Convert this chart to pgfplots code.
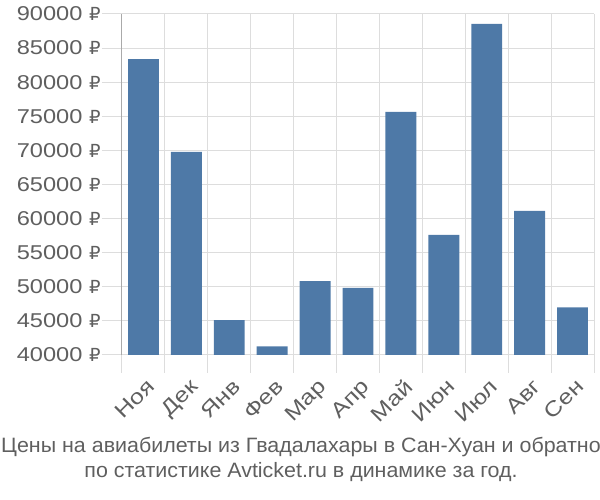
\documentclass[border=0pt]{standalone}
\usepackage{fontspec}
\setmainfont{Liberation Sans}
\newfontfamily\tickfont[FakeStretch=1.18]{Liberation Sans}
\newfontfamily\titlefont[FakeStretch=1.03]{Liberation Sans}
\newfontfamily\rubfont{DejaVu Sans}
\usepackage{pgfplots}
\pgfplotsset{compat=1.18}
\definecolor{barblue}{RGB}{78,121,167}
\definecolor{txtgray}{RGB}{95,95,95}
\definecolor{gridgray}{RGB}{221,221,221}
\definecolor{axgray}{RGB}{170,170,170}
\begin{document}
\begin{tikzpicture}
\begin{axis}[
  scale only axis,
  width=472pt, height=341pt,
  xmin=-0.5, xmax=10.5,
  ymin=40000, ymax=90000,
  ytick={40000,45000,...,90000},
  scaled y ticks=false,
  yticklabel={\pgfmathprintnumber[fixed,1000 sep={}]{\tick}~{\rubfont\fontsize{18}{22}\selectfont ₽}},
  xtick={0,...,10},
  xticklabels={Ноя,Дек,Янв,Фев,Мар,Апр,Май,Июн,Июл,Авг,Сен},
  minor xtick={-0.5,0.5,...,10.5},
  xminorgrids, ymajorgrids,
  major x tick style={draw=none},
  minor x tick style={draw=gridgray, line width=1pt},
  minor tick length=18pt,
  major y tick style={draw=gridgray, line width=1pt},
  major tick length=20pt,
  tick align=outside,
  grid style={draw=gridgray, line width=1pt},
  minor grid style={draw=gridgray, line width=1pt},
  axis x line*=bottom,
  axis y line*=left,
  x axis line style={draw=gridgray, line width=1pt, -},
  y axis line style={draw=axgray, line width=1pt, -},
  ticklabel style={font=\tickfont\fontsize{20}{24}\selectfont, text=txtgray},
  yticklabel style={xshift=2pt},
  xticklabel style={font=\tickfont\fontsize{21}{25}\selectfont, rotate=45, anchor=north east, xshift=3pt, yshift=0pt},
  /pgf/number format/assume math mode=true,
  clip=false,
]
\addplot[ybar, bar width=0.72, fill=barblue, draw=none] coordinates {
  (0,83400) (1,69800) (2,45100) (3,41250) (4,50850) (5,49850)
  (6,75650) (7,57600) (8,88550) (9,61150) (10,47000)
};
\end{axis}
\node[font=\titlefont\fontsize{20.8}{24}\selectfont, text=txtgray] at (179pt,-92pt) {Цены на авиабилеты из Гвадалахары в Сан-Хуан и обратно};
\node[font=\titlefont\fontsize{20.8}{24}\selectfont, text=txtgray] at (179pt,-117pt) {по статистике Avticket.ru в динамике за год.};
\pgfresetboundingbox
\path[use as bounding box] (-122pt,-145pt) rectangle (478pt,355pt);
\end{tikzpicture}
\end{document}
